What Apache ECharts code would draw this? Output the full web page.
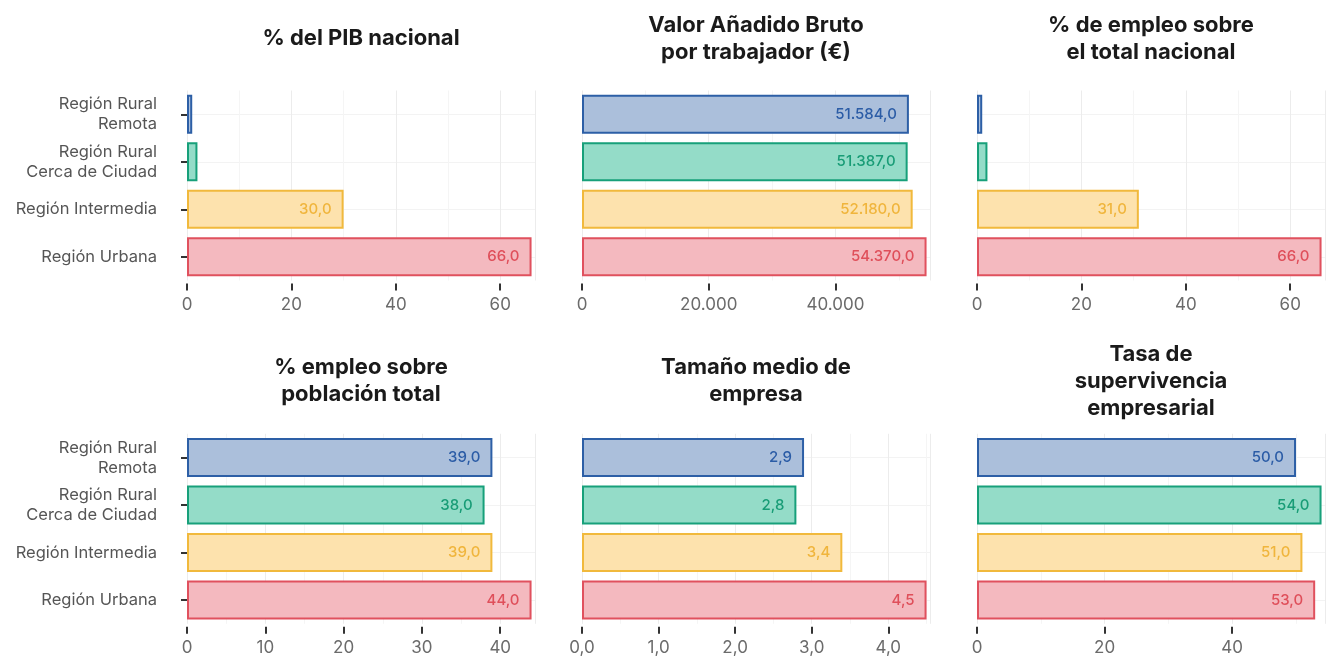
<!DOCTYPE html>
<html>
<head>
<meta charset="utf-8">
<script src="https://cdn.jsdelivr.net/npm/echarts@6/dist/echarts.min.js"></script>
<style>
  html, body { margin: 0; padding: 0; background: #fff; }
  #chart { width: 1328px; height: 657px; }
</style>
</head>
<body>
<div id="chart"></div>
<script>
// categories, top to bottom
const regiones = ['Región Rural\nRemota', 'Región Rural\nCerca de Ciudad', 'Región Intermedia', 'Región Urbana'];

const panelTitles = [
    '% del PIB nacional',
    'Valor Añadido Bruto\npor trabajador (€)',
    '% de empleo sobre\nel total nacional',
    '% empleo sobre\npoblación total',
    'Tamaño medio de\nempresa',
    'Tasa de\nsupervivencia\nempresarial'
];

// values in the same order as regiones
const pibNacional = [1, 2, 30, 66];
const vabTrabajador = [51584, 51387, 52180, 54370];
const empleoTotalNacional = [1, 2, 31, 66];
const empleoPoblacion = [39, 38, 39, 44];
const tamanoEmpresa = [2.9, 2.8, 3.4, 4.5];
const supervivencia = [50, 54, 51, 53];

const panelValues = [pibNacional, vabTrabajador, empleoTotalNacional, empleoPoblacion, tamanoEmpresa, supervivencia];
const tickInterval = [20, 20000, 20, 10, 1, 20];
const tickDecimals = [0, 0, 0, 0, 1, 0];

const fills = ['#abbfdb', '#94dcc8', '#fde2ad', '#f4b9bf'];
const borders = ['#2d5fa6', '#17a07a', '#f1b93c', '#e0515e'];
const labelColors = ['#2b5ca6', '#189c76', '#f0b53c', '#df4f5a'];

function fmtEs(v, dec) {
    const parts = v.toFixed(dec).split('.');
    parts[0] = parts[0].replace(/\B(?=(\d{3})+(?!\d))/g, '.');
    return parts.join(',');
}

const chart = echarts.init(document.getElementById('chart'), null, {renderer: 'canvas'});

const colLeft = [187, 582, 977];
const plotW = 348;
const rowTop = [90.5, 433.8];
const plotH = 190;
const titleCenter = [38.5, 381];
const FONT = 'Inter, "Noto Sans", sans-serif';

const grids = [], xAxes = [], yAxes = [], series = [], titles = [];

panelValues.forEach((vals, i) => {
    const col = i % 3, row = Math.floor(i / 3);
    grids.push({left: colLeft[col], top: rowTop[row], width: plotW, height: plotH});

    const nLines = panelTitles[i].split('\n').length;
    titles.push({
        text: panelTitles[i],
        left: colLeft[col] + plotW / 2,
        textAlign: 'center',
        top: titleCenter[row] - nLines * 13.5,
        padding: 0,
        textStyle: {fontFamily: FONT, fontSize: 22, fontWeight: 'bold', color: '#1a1a1a', lineHeight: 27}
    });

    const maxVal = Math.max(...vals);
    xAxes.push({
        type: 'value',
        gridIndex: i,
        min: 0,
        max: v => v.max * 1.01,
        interval: tickInterval[i],
        offset: 3,
        axisLine: {show: false},
        axisTick: {show: true, length: 7, lineStyle: {color: '#333', width: 2}},
        axisLabel: {
            margin: 13,
            fontFamily: FONT, fontSize: 17, color: '#6b6b6b',
            showMaxLabel: false,
            formatter: v => fmtEs(v, tickDecimals[i])
        },
        splitLine: {show: true, lineStyle: {color: '#ececec', width: 1}},
        minorTick: {show: false, splitNumber: 2},
        minorSplitLine: {show: true, lineStyle: {color: '#f5f5f5', width: 1}}
    });

    yAxes.push({
        type: 'category',
        gridIndex: i,
        data: regiones,
        inverse: true,
        offset: 20,
        axisLine: {show: false},
        axisTick: {show: col === 0, length: 6, alignWithLabel: true, lineStyle: {color: '#333', width: 2}},
        axisLabel: {
            show: col === 0,
            margin: 10,
            fontFamily: FONT, fontSize: 16.5, color: '#555', lineHeight: 20, align: 'right'
        },
        splitLine: {show: true, alignWithLabel: true, lineStyle: {color: '#f3f3f3', width: 1}}
    });

    series.push({
        type: 'bar',
        xAxisIndex: i,
        yAxisIndex: i,
        barWidth: '82%',
        data: vals.map((v, k) => ({
            value: v,
            itemStyle: {color: fills[k], borderColor: borders[k], borderWidth: 2},
            label: {
                show: v / maxVal > 0.2,
                position: 'insideRight',
                distance: 12,
                color: labelColors[k],
                fontFamily: FONT, fontSize: 15, fontWeight: 500,
                formatter: () => fmtEs(v, 1)
            }
        })),
        animation: false
    });
});

chart.setOption({
    backgroundColor: '#fff',
    title: titles,
    grid: grids,
    xAxis: xAxes,
    yAxis: yAxes,
    series: series
});
</script>
</body>
</html>
